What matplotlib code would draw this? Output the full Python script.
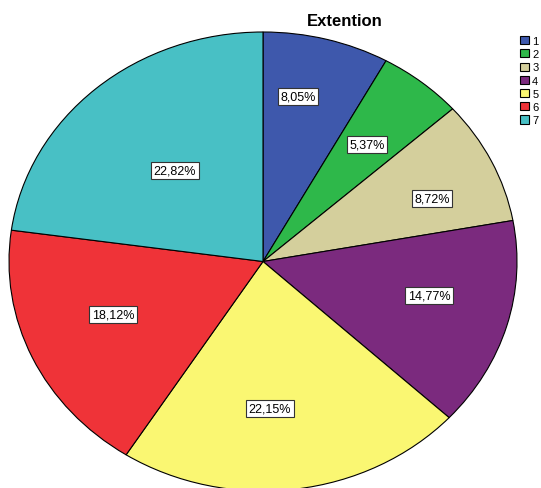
import matplotlib
matplotlib.use("Agg")
import matplotlib.pyplot as plt
import numpy as np

categories = ["1", "2", "3", "4", "5", "6", "7"]
percentages = [8.05, 5.37, 8.72, 14.77, 22.15, 18.12, 22.82]
pct_labels = ["8,05%", "5,37%", "8,72%", "14,77%", "22,15%", "18,12%", "22,82%"]
colors = ["#3E58AC", "#2EB84A", "#D4CF9C", "#7B2A7E", "#FAF772", "#EF3338", "#48C0C5"]
# label placement tweaks (radius fraction, angle offset in degrees)
label_radius = [0.734, 0.655, 0.720, 0.671, 0.639, 0.635, 0.528]
label_dang = [3.7, 0.0, -3.4, 3.4, -4.8, -3.3, 0.0]

plt.rcParams['font.family'] = ['Liberation Sans', 'DejaVu Sans']

W, H = 541, 489
fig = plt.figure(figsize=(W / 100, H / 100), dpi=100)
cx, cy, rx, ry = 263, 262.5, 254, 229.5
ax = fig.add_axes([(cx - rx) / W, (H - cy - ry) / H, 2 * rx / W, 2 * ry / H])

wedges, _ = ax.pie(percentages, colors=colors, startangle=90, counterclock=False,
                   wedgeprops=dict(edgecolor="black", linewidth=0.8))
ax.set_aspect("auto")
ax.set_xlim(-1, 1)
ax.set_ylim(-1, 1)

for w, lab, r, da in zip(wedges, pct_labels, label_radius, label_dang):
    ang = np.deg2rad((w.theta1 + w.theta2) / 2 + da)
    ax.text(r * np.cos(ang), r * np.sin(ang), lab, ha="center", va="center", fontsize=9,
            bbox=dict(boxstyle="square,pad=0.2", facecolor="white", edgecolor="#333333", linewidth=0.8))

fig.text(345 / W, 1 - 21 / H, "Extention", ha="center", va="center", fontsize=12, fontweight="bold")

leg = fig.legend(wedges, categories, loc="upper left", bbox_to_anchor=(520 / W, 1 - 37 / H),
                 frameon=False, fontsize=8, handlelength=0.8, handleheight=0.75,
                 handletextpad=0.3, labelspacing=0.29, borderpad=0, borderaxespad=0)

fig.savefig("out.png", dpi=100)
